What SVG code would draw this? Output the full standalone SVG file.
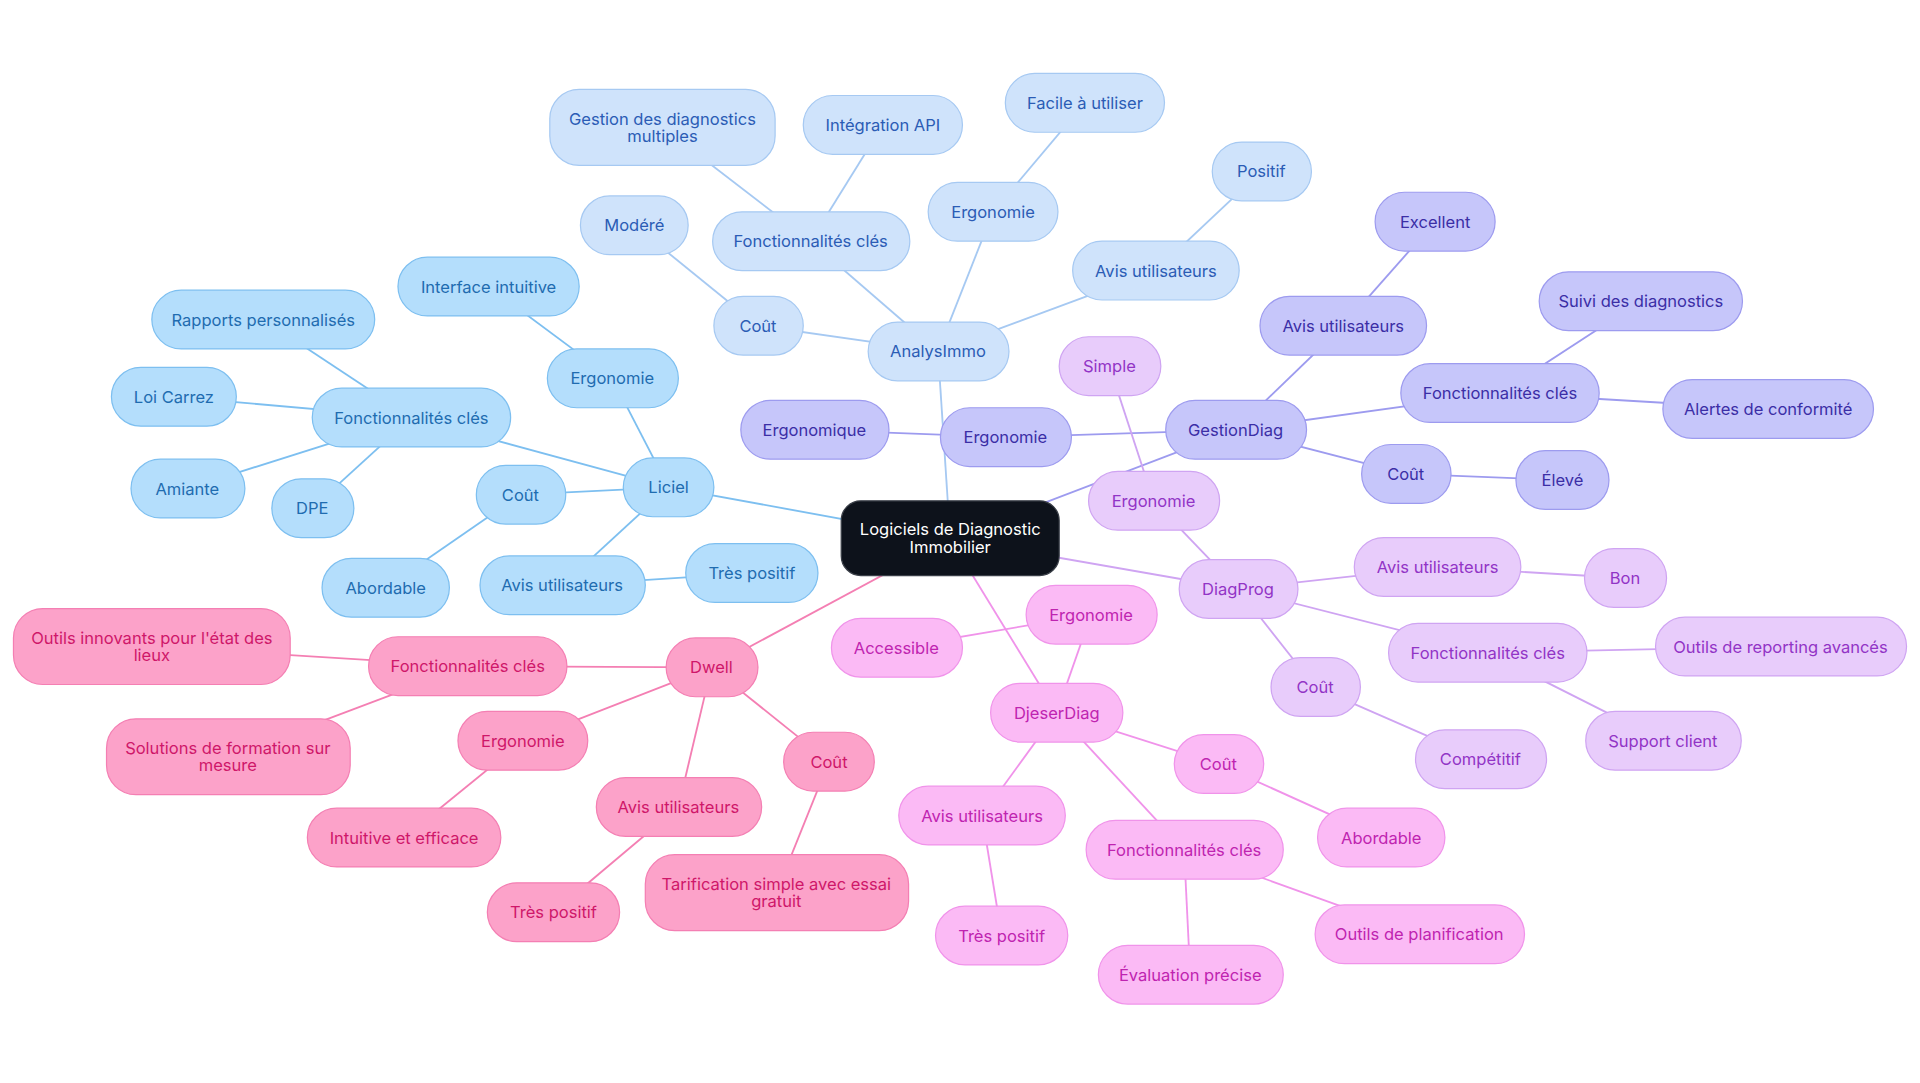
<svg xmlns="http://www.w3.org/2000/svg" width="1920" height="1083" viewBox="0 0 1920 1083">
<style>
text{font-family:Inter,"Liberation Sans",sans-serif;font-size:13.5px;text-anchor:middle;dominant-baseline:central}
rect{stroke-width:1}
.b rect{fill:#b4defc;stroke:#7dbff0}.b text{fill:#1f6cb0}
.a rect{fill:#cfe3fb;stroke:#a6c9f2}.a text{fill:#2b5cb5}
.g rect{fill:#c6c6fa;stroke:#9d9bef}.g text{fill:#3b2ea6}
.p rect{fill:#e8ccfb;stroke:#cfa4f2}.p text{fill:#9234c6}
.m rect{fill:#fbbaf5;stroke:#f093ea}.m text{fill:#bf24b0}
.k rect{fill:#fca2c9;stroke:#f47fb3}.k text{fill:#cf1769}
.c rect{fill:#0d121b;stroke:#3a3f48}.c text{fill:#ffffff}
#edges line{stroke-width:1.5}
</style>
<rect width="1920" height="1083" fill="#fff"/>
<g transform="scale(1.2245)">
<g id="edges">
<g stroke="#7dbff0"><line x1="776" y1="440" x2="546" y2="398"/><line x1="546" y1="398" x2="336" y2="341"/><line x1="336" y1="341" x2="215" y2="261"/><line x1="336" y1="341" x2="142" y2="324"/><line x1="336" y1="341" x2="153" y2="399"/><line x1="336" y1="341" x2="255" y2="415"/><line x1="546" y1="398" x2="500" y2="309"/><line x1="500" y1="309" x2="399" y2="234"/><line x1="546" y1="398" x2="425" y2="404"/><line x1="425" y1="404" x2="315" y2="480"/><line x1="546" y1="398" x2="459" y2="478"/><line x1="459" y1="478" x2="614" y2="468"/></g>
<g stroke="#a6c9f2"><line x1="776" y1="440" x2="766" y2="287"/><line x1="766" y1="287" x2="619" y2="266"/><line x1="619" y1="266" x2="518" y2="184"/><line x1="766" y1="287" x2="662" y2="197"/><line x1="662" y1="197" x2="541" y2="104"/><line x1="662" y1="197" x2="721" y2="102"/><line x1="766" y1="287" x2="811" y2="173"/><line x1="811" y1="173" x2="886" y2="84"/><line x1="766" y1="287" x2="944" y2="221"/><line x1="944" y1="221" x2="1030" y2="140"/></g>
<g stroke="#9d9bef"><line x1="776" y1="440" x2="1009" y2="351"/><line x1="1009" y1="351" x2="821" y2="357"/><line x1="821" y1="357" x2="665" y2="351"/><line x1="1009" y1="351" x2="1097" y2="266"/><line x1="1097" y1="266" x2="1172" y2="181"/><line x1="1009" y1="351" x2="1225" y2="321"/><line x1="1225" y1="321" x2="1340" y2="246"/><line x1="1225" y1="321" x2="1444" y2="334"/><line x1="1009" y1="351" x2="1148" y2="387"/><line x1="1148" y1="387" x2="1276" y2="392"/></g>
<g stroke="#cfa4f2"><line x1="776" y1="440" x2="1011" y2="481"/><line x1="1011" y1="481" x2="942" y2="409"/><line x1="942" y1="409" x2="906" y2="299"/><line x1="1011" y1="481" x2="1174" y2="463"/><line x1="1174" y1="463" x2="1327" y2="472"/><line x1="1011" y1="481" x2="1215" y2="533"/><line x1="1215" y1="533" x2="1454" y2="528"/><line x1="1215" y1="533" x2="1358" y2="605"/><line x1="1011" y1="481" x2="1074" y2="561"/><line x1="1074" y1="561" x2="1209" y2="620"/></g>
<g stroke="#f093ea"><line x1="776" y1="440" x2="863" y2="582"/><line x1="863" y1="582" x2="891" y2="502"/><line x1="891" y1="502" x2="732" y2="529"/><line x1="863" y1="582" x2="995" y2="624"/><line x1="995" y1="624" x2="1128" y2="684"/><line x1="863" y1="582" x2="802" y2="666"/><line x1="802" y1="666" x2="818" y2="764"/><line x1="863" y1="582" x2="967" y2="694"/><line x1="967" y1="694" x2="972" y2="796"/><line x1="967" y1="694" x2="1159" y2="763"/></g>
<g stroke="#f47fb3"><line x1="776" y1="440" x2="581" y2="545"/><line x1="581" y1="545" x2="382" y2="544"/><line x1="382" y1="544" x2="124" y2="528"/><line x1="382" y1="544" x2="186" y2="618"/><line x1="581" y1="545" x2="427" y2="605"/><line x1="427" y1="605" x2="330" y2="684"/><line x1="581" y1="545" x2="554" y2="659"/><line x1="554" y1="659" x2="452" y2="745"/><line x1="581" y1="545" x2="677" y2="622"/><line x1="677" y1="622" x2="634" y2="729"/></g>
</g>
<g id="n0" class="c"><rect x="687" y="409" width="178" height="61" rx="16"/><text x="776" y="432">Logiciels de Diagnostic</text><text x="776" y="447">Immobilier</text></g>
<g class="b">
<g id="liciel"><rect x="509" y="374" width="74" height="48" rx="24"/><text x="546" y="398">Liciel</text></g>
<g id="l1"><rect x="255" y="317" width="162" height="48" rx="24"/><text x="336" y="341">Fonctionnalités clés</text></g>
<g id="l2"><rect x="124" y="237" width="182" height="48" rx="24"/><text x="215" y="261">Rapports personnalisés</text></g>
<g id="l3"><rect x="91" y="300" width="102" height="48" rx="24"/><text x="142" y="324">Loi Carrez</text></g>
<g id="l4"><rect x="107" y="375" width="93" height="48" rx="24"/><text x="153" y="399">Amiante</text></g>
<g id="l5"><rect x="222" y="391" width="67" height="48" rx="24"/><text x="255" y="415">DPE</text></g>
<g id="l6"><rect x="447" y="285" width="107" height="48" rx="24"/><text x="500" y="309">Ergonomie</text></g>
<g id="l7"><rect x="325" y="210" width="148" height="48" rx="24"/><text x="399" y="234">Interface intuitive</text></g>
<g id="l8"><rect x="389" y="380" width="73" height="48" rx="24"/><text x="425" y="404">Coût</text></g>
<g id="l9"><rect x="263" y="456" width="104" height="48" rx="24"/><text x="315" y="480">Abordable</text></g>
<g id="l10"><rect x="392" y="454" width="135" height="48" rx="24"/><text x="459" y="478">Avis utilisateurs</text></g>
<g id="l11"><rect x="560" y="444" width="108" height="48" rx="24"/><text x="614" y="468">Très positif</text></g>
</g>
<g class="a">
<g id="ana"><rect x="709" y="263" width="115" height="48" rx="24"/><text x="766" y="287">AnalysImmo</text></g>
<g id="a1"><rect x="583" y="242" width="73" height="48" rx="24"/><text x="619" y="266">Coût</text></g>
<g id="a2"><rect x="474" y="160" width="88" height="48" rx="24"/><text x="518" y="184">Modéré</text></g>
<g id="a3"><rect x="582" y="173" width="161" height="48" rx="24"/><text x="662" y="197">Fonctionnalités clés</text></g>
<g id="a4"><rect x="449" y="73" width="184" height="62" rx="24"/><text x="541" y="97">Gestion des diagnostics</text><text x="541" y="111">multiples</text></g>
<g id="a5"><rect x="656" y="78" width="130" height="48" rx="24"/><text x="721" y="102">Intégration API</text></g>
<g id="a6"><rect x="758" y="149" width="106" height="48" rx="24"/><text x="811" y="173">Ergonomie</text></g>
<g id="a7"><rect x="821" y="60" width="130" height="48" rx="24"/><text x="886" y="84">Facile à utiliser</text></g>
<g id="a8"><rect x="876" y="197" width="136" height="48" rx="24"/><text x="944" y="221">Avis utilisateurs</text></g>
<g id="a9"><rect x="990" y="116" width="81" height="48" rx="24"/><text x="1030" y="140">Positif</text></g>
</g>
<g class="g">
<g id="gd"><rect x="952" y="327" width="115" height="48" rx="24"/><text x="1009" y="351">GestionDiag</text></g>
<g id="g1"><rect x="768" y="333" width="107" height="48" rx="24"/><text x="821" y="357">Ergonomie</text></g>
<g id="g2"><rect x="605" y="327" width="121" height="48" rx="24"/><text x="665" y="351">Ergonomique</text></g>
<g id="g3"><rect x="1029" y="242" width="136" height="48" rx="24"/><text x="1097" y="266">Avis utilisateurs</text></g>
<g id="g4"><rect x="1123" y="157" width="98" height="48" rx="24"/><text x="1172" y="181">Excellent</text></g>
<g id="g5"><rect x="1144" y="297" width="162" height="48" rx="24"/><text x="1225" y="321">Fonctionnalités clés</text></g>
<g id="g6"><rect x="1257" y="222" width="166" height="48" rx="24"/><text x="1340" y="246">Suivi des diagnostics</text></g>
<g id="g7"><rect x="1358" y="310" width="172" height="48" rx="24"/><text x="1444" y="334">Alertes de conformité</text></g>
<g id="g8"><rect x="1112" y="363" width="73" height="48" rx="24"/><text x="1148" y="387">Coût</text></g>
<g id="g9"><rect x="1238" y="368" width="76" height="48" rx="24"/><text x="1276" y="392">Élevé</text></g>
</g>
<g class="p">
<g id="dp"><rect x="963" y="457" width="97" height="48" rx="24"/><text x="1011" y="481">DiagProg</text></g>
<g id="p1"><rect x="889" y="385" width="107" height="48" rx="24"/><text x="942" y="409">Ergonomie</text></g>
<g id="p2"><rect x="865" y="275" width="83" height="48" rx="24"/><text x="906" y="299">Simple</text></g>
<g id="p3"><rect x="1106" y="439" width="136" height="48" rx="24"/><text x="1174" y="463">Avis utilisateurs</text></g>
<g id="p4"><rect x="1294" y="448" width="67" height="48" rx="24"/><text x="1327" y="472">Bon</text></g>
<g id="p5"><rect x="1134" y="509" width="162" height="48" rx="24"/><text x="1215" y="533">Fonctionnalités clés</text></g>
<g id="p6"><rect x="1352" y="504" width="205" height="48" rx="24"/><text x="1454" y="528">Outils de reporting avancés</text></g>
<g id="p7"><rect x="1295" y="581" width="127" height="48" rx="24"/><text x="1358" y="605">Support client</text></g>
<g id="p8"><rect x="1038" y="537" width="73" height="48" rx="24"/><text x="1074" y="561">Coût</text></g>
<g id="p9"><rect x="1156" y="596" width="107" height="48" rx="24"/><text x="1209" y="620">Compétitif</text></g>
</g>
<g class="m">
<g id="dj"><rect x="809" y="558" width="108" height="48" rx="24"/><text x="863" y="582">DjeserDiag</text></g>
<g id="m1"><rect x="838" y="478" width="107" height="48" rx="24"/><text x="891" y="502">Ergonomie</text></g>
<g id="m2"><rect x="679" y="505" width="107" height="48" rx="24"/><text x="732" y="529">Accessible</text></g>
<g id="m3"><rect x="959" y="600" width="73" height="48" rx="24"/><text x="995" y="624">Coût</text></g>
<g id="m4"><rect x="1076" y="660" width="104" height="48" rx="24"/><text x="1128" y="684">Abordable</text></g>
<g id="m5"><rect x="734" y="642" width="136" height="48" rx="24"/><text x="802" y="666">Avis utilisateurs</text></g>
<g id="m6"><rect x="764" y="740" width="108" height="48" rx="24"/><text x="818" y="764">Très positif</text></g>
<g id="m7"><rect x="887" y="670" width="161" height="48" rx="24"/><text x="967" y="694">Fonctionnalités clés</text></g>
<g id="m8"><rect x="897" y="772" width="151" height="48" rx="24"/><text x="972" y="796">Évaluation précise</text></g>
<g id="m9"><rect x="1074" y="739" width="171" height="48" rx="24"/><text x="1159" y="763">Outils de planification</text></g>
</g>
<g class="k">
<g id="dw"><rect x="544" y="521" width="75" height="48" rx="24"/><text x="581" y="545">Dwell</text></g>
<g id="k1"><rect x="301" y="520" width="162" height="48" rx="24"/><text x="382" y="544">Fonctionnalités clés</text></g>
<g id="k2"><rect x="11" y="497" width="226" height="62" rx="24"/><text x="124" y="521">Outils innovants pour l'état des</text><text x="124" y="535">lieux</text></g>
<g id="k3"><rect x="87" y="587" width="199" height="62" rx="24"/><text x="186" y="611">Solutions de formation sur</text><text x="186" y="625">mesure</text></g>
<g id="k4"><rect x="374" y="581" width="106" height="48" rx="24"/><text x="427" y="605">Ergonomie</text></g>
<g id="k5"><rect x="251" y="660" width="158" height="48" rx="24"/><text x="330" y="684">Intuitive et efficace</text></g>
<g id="k6"><rect x="487" y="635" width="135" height="48" rx="24"/><text x="554" y="659">Avis utilisateurs</text></g>
<g id="k7"><rect x="398" y="721" width="108" height="48" rx="24"/><text x="452" y="745">Très positif</text></g>
<g id="k8"><rect x="640" y="598" width="74" height="48" rx="24"/><text x="677" y="622">Coût</text></g>
<g id="k9"><rect x="527" y="698" width="215" height="62" rx="24"/><text x="634" y="722">Tarification simple avec essai</text><text x="634" y="736">gratuit</text></g>
</g>
</g>
</svg>
